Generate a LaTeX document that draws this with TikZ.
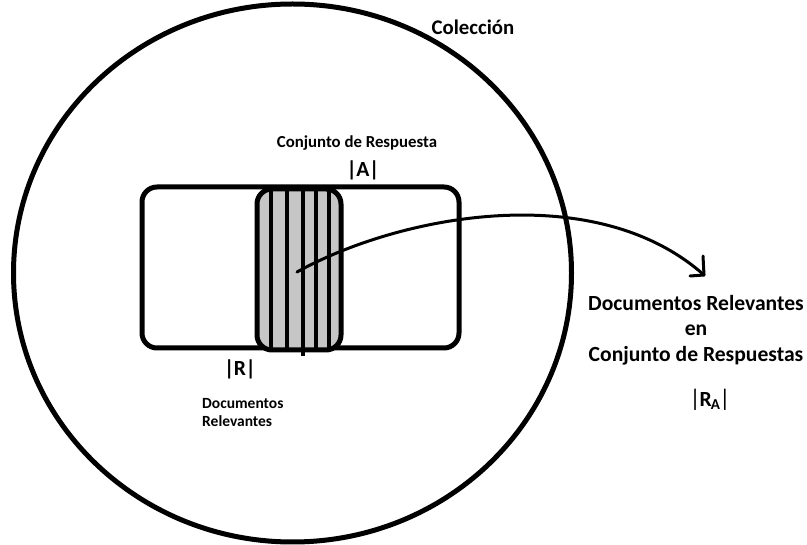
\documentclass[tikz,border=0pt]{standalone}
\usepackage{fontspec}
\setmainfont{Carlito}
\begin{document}
\begin{tikzpicture}[x=1pt,y=-1pt,
  outline/.style={draw=black,line width=5pt,rounded corners=15pt},
  big/.style={font=\bfseries\fontsize{21.6}{25.5}\selectfont,align=center,inner sep=0pt},
  small/.style={font=\bfseries\fontsize{15.5}{18}\selectfont,inner sep=0pt},
  stripe/.style={line width=4.5pt},
  link/.style={line width=3pt,line cap=round}]
\useasboundingbox (0,0) rectangle (807,545);
\fill[white] (0,0) rectangle (807,545);

% the whole collection
\draw[line width=5pt] (292.5,273) ellipse [x radius=279, y radius=269];

% answer set A
\draw[outline] (142,187) rectangle (459,348);

% relevant documents R, hatched where it meets A
\begin{scope}
  \clip[rounded corners=15pt] (257,189) rectangle (341,350);
  \fill[gray!45] (257,189) rectangle (341,350);
  \foreach \sx in {271,287,303,316,329}
    \draw[stripe] (\sx,185) -- (\sx,354);
\end{scope}
\draw[stripe] (303,348) -- (303,356);
\draw[outline] (257,189) rectangle (341,350);

% labels
\node[big,font=\bfseries\fontsize{20.8}{25}\selectfont] (coleccion) at (473,27) {Colección};
\node[small,font=\bfseries\fontsize{16.8}{18}\selectfont] (conjunto) at (357,143) {Conjunto de Respuesta};
\node[big] (absA) at (363,170) {|\kern-0.5ptA\kern-0.5pt|};
\node[big] (absR) at (240,369) {|\kern-0.5ptR\kern-0.5pt|};
\node[small,align=left,anchor=west] (docrel) at (202,413)
  {Documentos\\[0pt]Relevantes};
\node[big] (ra) at (696,330) {Documentos Relevantes\\en\\Conjunto de Respuestas};
\node[big] (absRA) at (710,400) {{\mdseries\fontsize{24}{24}\selectfont|}\kern-1ptR\textsubscript{\kern-1ptA}\kern-1pt{\mdseries\fontsize{24}{24}\selectfont|}};

% connector from the hatched part to the label on the right
\coordinate (src) at (297,272);
\coordinate (tip) at (704,275);
\draw[link] (src) .. controls (400,215) and (595,178) .. (tip);
\draw[link] (tip) -- ++(-1,-19);
\draw[link] (tip) -- ++(-14,1);
\end{tikzpicture}
\end{document}
